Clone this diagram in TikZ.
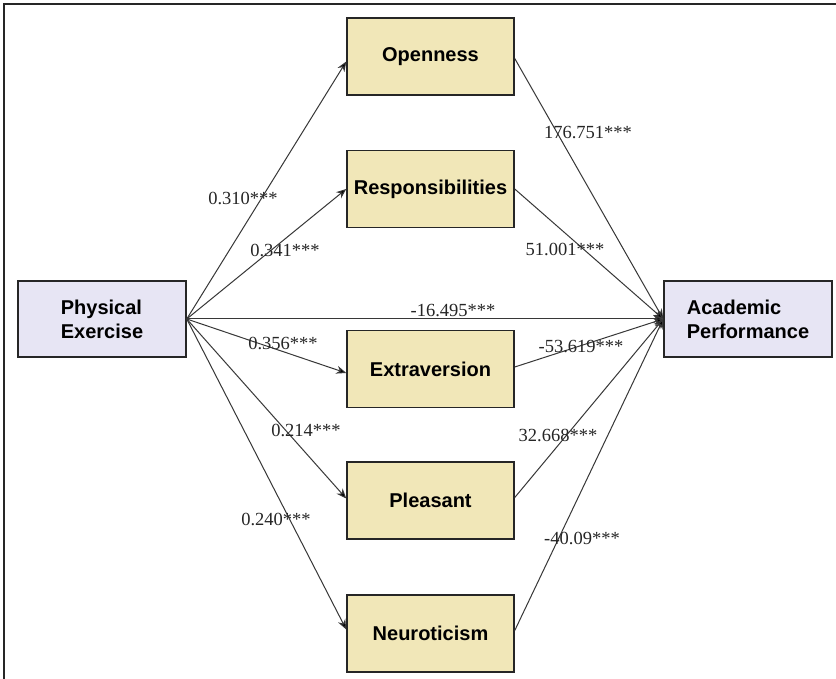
\documentclass[tikz,border=0pt]{standalone}
\usepackage{fontspec}
\setmainfont{Liberation Serif}
\newfontfamily\boxfont{Liberation Sans}
\usetikzlibrary{arrows.meta,calc}
\definecolor{tanfill}{RGB}{241,231,184}
\definecolor{lavfill}{RGB}{231,229,244}
\definecolor{edgegray}{RGB}{55,55,55}
\tikzset{
  trait/.style={draw=black!85, line width=1.5pt, fill=tanfill, minimum width=167pt, minimum height=77pt, inner sep=0pt,
    font=\boxfont\bfseries\fontsize{20}{24}\selectfont},
  endbox/.style={draw=black!85, line width=1.5pt, fill=lavfill, minimum width=168pt, minimum height=76pt, inner sep=0pt,
    font=\boxfont\bfseries\fontsize{20}{24}\selectfont, align=left},
  path/.style={draw=edgegray, line width=1pt, -{Stealth[length=10pt,width=8pt,fill=black]}},
  coef/.style={font=\fontsize{18.5}{20}\selectfont, inner sep=0pt, text=black!85}
}
\begin{document}
\begin{tikzpicture}[x=1pt,y=-1pt]
\useasboundingbox (0,0) rectangle (836,679);
\fill[white] (0,0) rectangle (836,679);
\draw[line width=2pt, black!85] (4,679) -- (4,4) -- (836,4);

\node[trait] (ope) at (430.5,56.5) {Openness};
\node[trait] (res) at (430.5,189) {Responsibilities};
\node[trait] (ext) at (430.5,369) {Extraversion};
\node[trait] (ple) at (430.5,500.5) {Pleasant};
\node[trait] (neu) at (430.5,633.5) {Neuroticism};
\node[endbox] (pe) at (102,319) {Physical\\Exercise};
\node[endbox] (ap) at (748,319) {Academic\\Performance};

\coordinate (pe-out) at (pe.east);
\coordinate (ap-in) at (ap.west);

\draw[path] (pe-out) -- ($(ope.west)+(0,5)$);
\draw[path] (pe-out) -- (res.west);
\draw[path] (pe-out) -- ($(ext.west)+(0,4)$);
\draw[path] (pe-out) -- ($(ple.west)+(0,-2)$);
\draw[path] (pe-out) -- ($(neu.west)+(0,-4)$);
\draw[path] (pe-out) -- (ap-in);

\draw[path] ($(ope.east)+(0,2)$) -- (ap-in);
\draw[path] (res.east) -- (ap-in);
\draw[path] ($(ext.east)+(0,-2)$) -- (ap-in);
\draw[path] ($(ple.east)+(0,-3)$) -- (ap-in);
\draw[path] ($(neu.east)+(0,-3)$) -- (ap-in);

\node[coef] (c1) at (243,198) {0.310***};
\node[coef] (c2) at (285,250) {0.341***};
\node[coef] (c3) at (453,311) {-16.495***};
\node[coef] (c4) at (283,343) {0.356***};
\node[coef] (c5) at (306,430) {0.214***};
\node[coef] (c6) at (276,519) {0.240***};
\node[coef] (c7) at (588,133) {176.751***};
\node[coef] (c8) at (565,249) {51.001***};
\node[coef] (c9) at (581,347) {-53.619***};
\node[coef] (c10) at (558,435) {32.668***};
\node[coef] (c11) at (582,538) {-40.09***};
\end{tikzpicture}
\end{document}
